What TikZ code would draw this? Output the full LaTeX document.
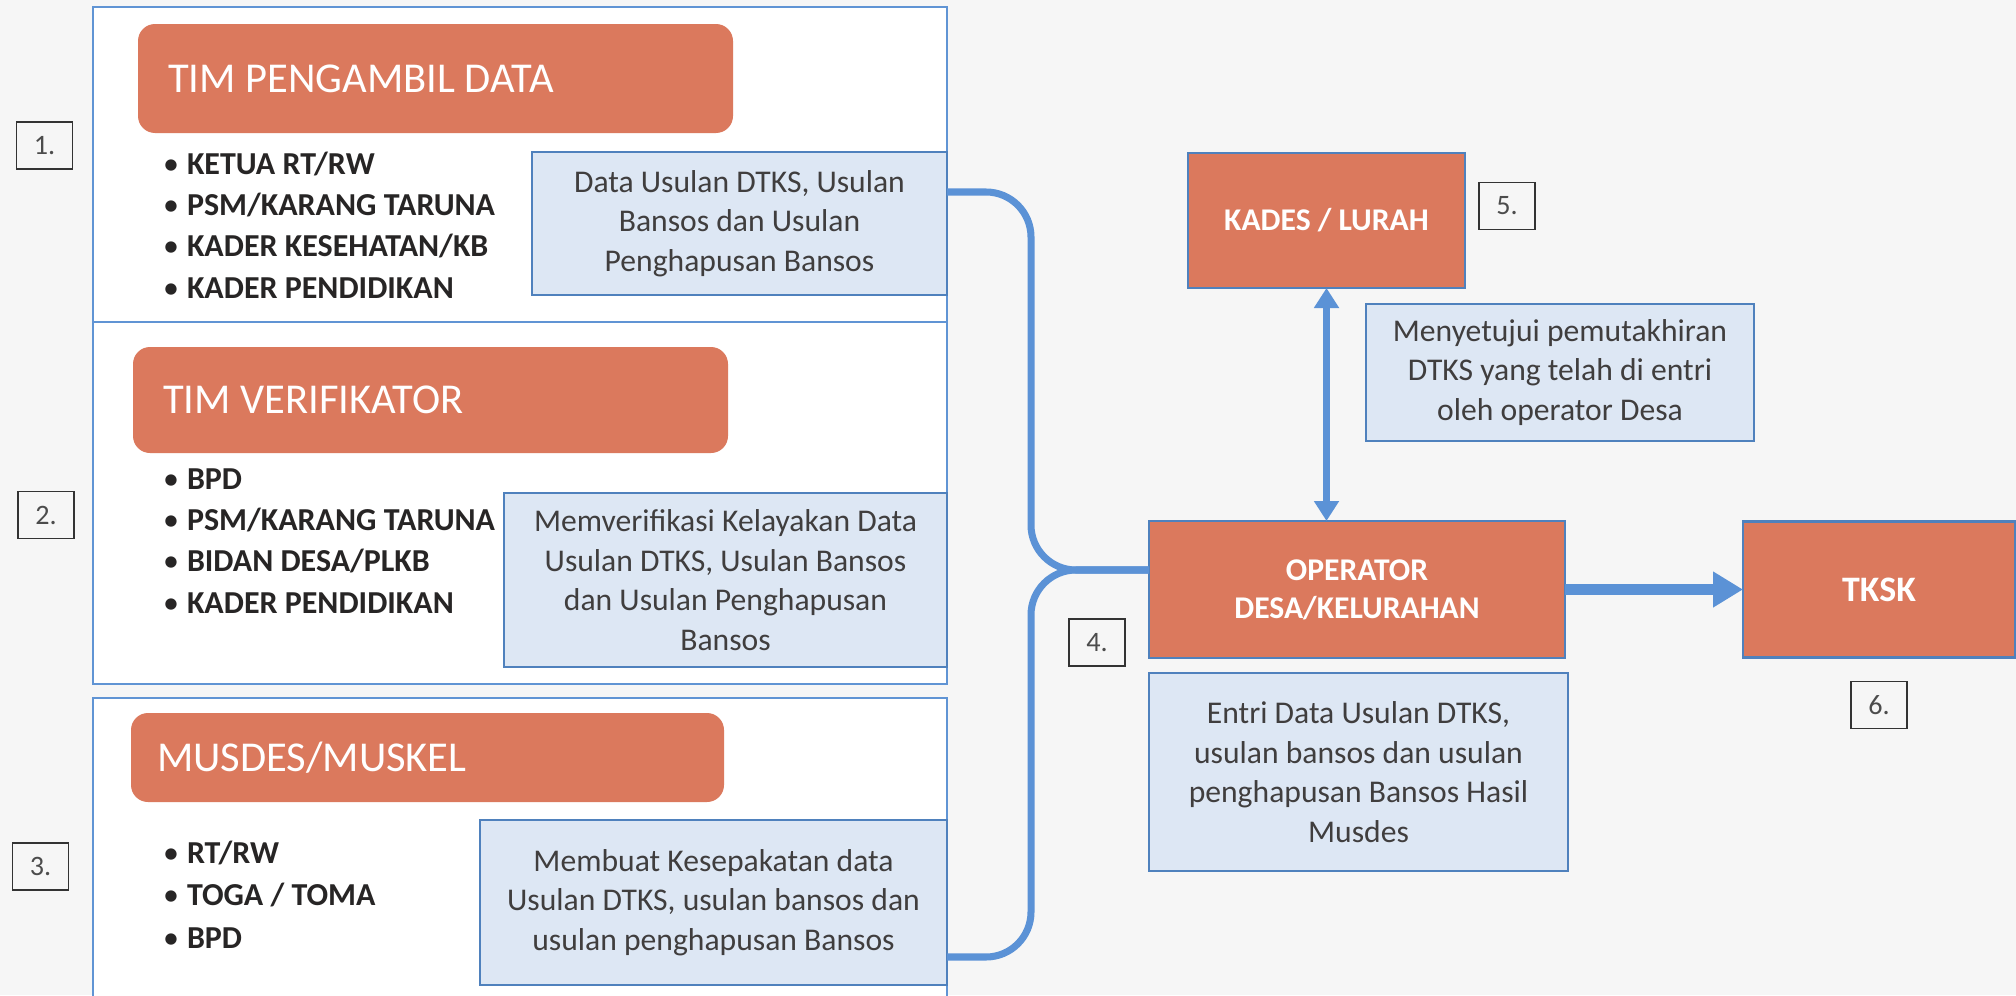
\documentclass[tikz,border=0pt]{standalone}
\usepackage{fontspec}
\setmainfont{Carlito}
\usepackage{xcolor}
\usepackage{tikz}
\usetikzlibrary{arrows.meta,positioning}
\definecolor{orng}{RGB}{219,121,93}
\definecolor{lblue}{RGB}{221,231,244}
\definecolor{bordblue}{RGB}{79,129,189}
\definecolor{lineblue}{RGB}{91,146,214}
\definecolor{frameblue}{RGB}{96,148,212}
\definecolor{txtgray}{RGB}{64,62,62}
\definecolor{scanbg}{RGB}{246,246,246}

\begin{document}
\begin{tikzpicture}[x=0.1mm, y=-0.1mm, node distance=2mm, every node/.style={inner sep=0pt, outer sep=0pt}, panel/.style={draw=frameblue, line width=0.6pt, fill=white, anchor=north west}, head/.style={fill=orng, rounded corners=1.7mm, text=white, anchor=north west, align=flush left, inner xsep=3mm, font=\fontsize{12.1}{14}\selectfont}, list/.style={anchor=base west, align=left, text=txtgray!60!black, font=\bfseries\fontsize{9.1}{11.75}\selectfont}, desc/.style={draw=bordblue, line width=0.8pt, fill=lblue, align=center, text=txtgray, anchor=north west, font=\fontsize{9}{11.3}\selectfont}, proc/.style={draw=bordblue, line width=0.6pt, fill=orng, align=center, text=white, font=\bfseries\fontsize{9}{10.8}\selectfont}, num/.style={draw=black!80, line width=0.4pt, minimum width=5.6mm, minimum height=4.7mm, text=black!70, font=\fontsize{8}{9}\selectfont}, brace/.style={draw=lineblue, line width=2pt, rounded corners=4.5mm}, arr/.style={draw=lineblue, line width=2pt, {Triangle[width=2.4mm,length=2mm]}-{Triangle[width=2.4mm,length=2mm]}}, fat/.style={draw=lineblue, line width=2.9pt, -{Triangle[width=3.4mm,length=3mm]}}]
\path[fill=scanbg, use as bounding box] (0,0) rectangle (2016,995);
\node[panel, minimum width=85.4mm, minimum height=31.5mm] (pan1) at (93,7) {};
\node[panel, minimum width=85.4mm, minimum height=36.2mm] (pan2) at (93,322) {};
\node[panel, minimum width=85.4mm, minimum height=30mm] (pan3) at (93,698) {};
\node[head, text width=53.5mm, minimum height=10.9mm] (hd1) at (138,24) {TIM PENGAMBIL DATA};
\node[head, text width=53.5mm, minimum height=10.6mm] (hd2) at (133,347) {TIM VERIFIKATOR};
\node[head, inner xsep=2.6mm, text width=54.1mm, minimum height=8.9mm] (hd3) at (131,713) {MUSDES/MUSKEL};
\node[list] (ls1) at (163,298) {\makebox[2.4mm][l]{\mdseries\textbullet}KETUA RT/RW\\\makebox[2.4mm][l]{\mdseries\textbullet}PSM/KARANG TARUNA\\\makebox[2.4mm][l]{\mdseries\textbullet}KADER KESEHATAN/KB\\\makebox[2.4mm][l]{\mdseries\textbullet}KADER PENDIDIKAN};
\node[list] (ls2) at (163,613) {\makebox[2.4mm][l]{\mdseries\textbullet}BPD\\\makebox[2.4mm][l]{\mdseries\textbullet}PSM/KARANG TARUNA\\\makebox[2.4mm][l]{\mdseries\textbullet}BIDAN DESA/PLKB\\\makebox[2.4mm][l]{\mdseries\textbullet}KADER PENDIDIKAN};
\node[list, font=\bfseries\fontsize{9.1}{12}\selectfont] (ls3) at (163,948) {\makebox[2.4mm][l]{\mdseries\textbullet}RT/RW\\\makebox[2.4mm][l]{\mdseries\textbullet}TOGA / TOMA\\\makebox[2.4mm][l]{\mdseries\textbullet}BPD};
\node[desc, minimum width=41.5mm, minimum height=14.3mm] (d1) at (532,152) {Data Usulan DTKS, Usulan\\Bansos dan Usulan\\Penghapusan Bansos};
\node[desc, minimum width=44.3mm, minimum height=17.4mm] (d2) at (504,493) {Memverifikasi Kelayakan Data\\Usulan DTKS, Usulan Bansos\\dan Usulan Penghapusan\\Bansos};
\node[desc, minimum width=46.7mm, minimum height=16.5mm] (d3) at (480,820) {Membuat Kesepakatan data\\Usulan DTKS, usulan bansos dan\\usulan penghapusan Bansos};
\node[proc, anchor=north west, minimum width=27.7mm, minimum height=13.5mm] (kades) at (1188,153) {KADES / LURAH};
\node[desc, minimum width=38.8mm, minimum height=13.7mm] (d4) at (1366,304) {Menyetujui pemutakhiran\\DTKS yang telah di entri\\oleh operator Desa};
\node[proc, anchor=north west, minimum width=41.6mm, minimum height=13.7mm] (oper) at (1149,521) {OPERATOR\\DESA/KELURAHAN};
\node[desc, minimum width=41.9mm, minimum height=19.8mm] (d5) at (1149,673) {Entri Data Usulan DTKS,\\usulan bansos dan usulan\\penghapusan Bansos Hasil\\Musdes};
\node[proc, right=17.8mm of oper, minimum width=27.2mm, minimum height=13.6mm, font=\bfseries\fontsize{10.2}{12}\selectfont] (tksk) {TKSK};
\node[num] (n1) at (44.5,145.5) {1.};
\node[num] (n2) at (46,515) {2.};
\node[num] (n3) at (40.5,866.5) {3.};
\node[num] (n4) at (1097,642.5) {4.};
\node[num, right=1.4mm of kades, yshift=1.45mm] (n5) {5.};
\node[num, below=2.4mm of tksk] (n6) {6.};
\coordinate (j) at (1031,570);
\draw[brace] ([yshift=3.15mm]d1.east) -| (j) -- (j -| oper.west);
\draw[brace] ([yshift=-5.45mm]d3.east) -| (j) -- (j -| oper.west);
\draw[arr] (kades.south) -- (kades.south |- oper.north); \draw[fat] (oper.east) -- (tksk.west);
\end{tikzpicture}
\end{document}
